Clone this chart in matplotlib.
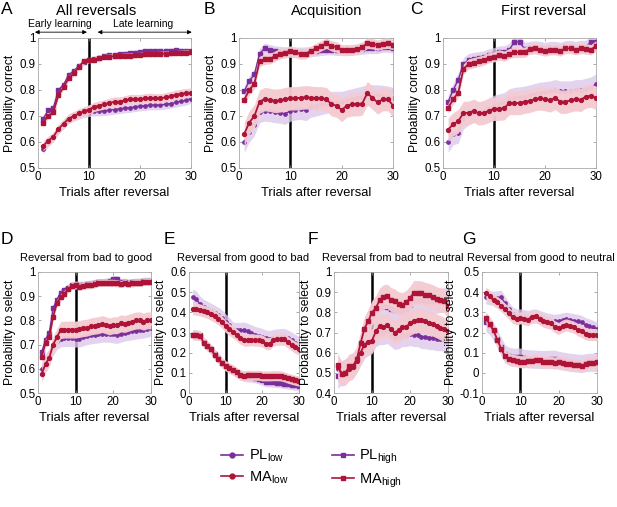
import numpy as np
import matplotlib
matplotlib.use('Agg')
import matplotlib.pyplot as plt
from matplotlib.ticker import FuncFormatter
from matplotlib.lines import Line2D

plt.rcParams['font.family'] = ['Liberation Sans', 'DejaVu Sans']
plt.rcParams['mathtext.fontset'] = 'custom'
plt.rcParams['mathtext.rm'] = 'Liberation Sans'
plt.rcParams['mathtext.it'] = 'Liberation Sans:italic'
plt.rcParams['axes.unicode_minus'] = False

trials = np.arange(1, 31)

# ---- data: mean curves (x = trials 1..30) ----
a_pl_low = [0.572,0.600,0.618,0.648,0.668,0.688,0.698,0.706,0.712,0.716,0.718,0.719,0.720,0.722,0.725,0.728,0.730,0.732,0.735,0.738,0.740,0.742,0.742,0.742,0.745,0.748,0.752,0.756,0.760,0.767]
a_pl_high = [0.690,0.722,0.732,0.800,0.820,0.858,0.872,0.893,0.908,0.915,0.918,0.925,0.930,0.933,0.935,0.937,0.940,0.942,0.944,0.946,0.949,0.950,0.950,0.950,0.951,0.951,0.952,0.951,0.950,0.950]
a_ma_low = [0.585,0.605,0.620,0.650,0.670,0.690,0.700,0.710,0.718,0.725,0.735,0.740,0.745,0.750,0.755,0.755,0.760,0.765,0.765,0.765,0.768,0.770,0.768,0.768,0.772,0.776,0.782,0.785,0.788,0.790]
a_ma_high = [0.675,0.700,0.715,0.780,0.810,0.845,0.865,0.890,0.910,0.915,0.915,0.925,0.927,0.928,0.930,0.930,0.932,0.932,0.934,0.935,0.937,0.938,0.938,0.939,0.940,0.941,0.942,0.943,0.944,0.945]

b_pl_low = [0.600,0.640,0.665,0.715,0.720,0.718,0.714,0.712,0.708,0.720,0.725,0.727,0.722,0.735,0.740,0.745,0.750,0.755,0.755,0.755,0.760,0.765,0.770,0.775,0.780,0.780,0.780,0.778,0.775,0.770]
b_pl_high = [0.795,0.835,0.860,0.940,0.960,0.955,0.950,0.948,0.946,0.945,0.945,0.945,0.946,0.948,0.950,0.953,0.955,0.955,0.953,0.952,0.952,0.953,0.955,0.957,0.960,0.960,0.960,0.965,0.965,0.962]
b_ma_low = [0.630,0.675,0.700,0.755,0.765,0.762,0.758,0.760,0.765,0.768,0.768,0.770,0.772,0.770,0.768,0.768,0.765,0.745,0.740,0.723,0.740,0.745,0.745,0.748,0.788,0.770,0.752,0.765,0.765,0.740]
b_ma_high = [0.762,0.800,0.825,0.910,0.918,0.920,0.930,0.940,0.943,0.950,0.945,0.938,0.940,0.950,0.960,0.970,0.980,0.970,0.965,0.955,0.955,0.955,0.958,0.965,0.980,0.978,0.972,0.978,0.980,0.975]

c_pl_low = [0.600,0.630,0.635,0.690,0.705,0.715,0.715,0.720,0.730,0.740,0.745,0.750,0.765,0.770,0.772,0.775,0.780,0.785,0.790,0.792,0.795,0.800,0.795,0.795,0.795,0.800,0.800,0.805,0.810,0.822]
c_pl_high = [0.755,0.800,0.840,0.900,0.915,0.920,0.922,0.926,0.934,0.938,0.945,0.945,0.955,0.985,0.985,0.958,0.962,0.964,0.962,0.958,0.962,0.962,0.958,0.965,0.966,0.962,0.966,0.966,0.985,0.985]
c_ma_low = [0.648,0.668,0.680,0.712,0.712,0.720,0.710,0.712,0.720,0.728,0.728,0.730,0.750,0.750,0.750,0.755,0.758,0.765,0.768,0.765,0.760,0.770,0.755,0.755,0.760,0.765,0.762,0.775,0.778,0.770]
c_ma_high = [0.730,0.765,0.790,0.880,0.900,0.905,0.910,0.915,0.925,0.928,0.935,0.930,0.940,0.945,0.945,0.945,0.958,0.960,0.955,0.950,0.955,0.955,0.950,0.960,0.960,0.955,0.960,0.958,0.955,0.970]

d_pl_low = [0.600,0.625,0.650,0.690,0.715,0.725,0.727,0.727,0.727,0.725,0.725,0.730,0.735,0.738,0.740,0.742,0.745,0.745,0.745,0.742,0.740,0.745,0.750,0.752,0.755,0.758,0.760,0.762,0.765,0.770]
d_pl_high = [0.670,0.720,0.750,0.850,0.885,0.915,0.925,0.935,0.945,0.948,0.946,0.948,0.950,0.952,0.955,0.958,0.958,0.960,0.962,0.970,0.970,0.958,0.960,0.956,0.958,0.960,0.960,0.962,0.964,0.964]
d_ma_low = [0.580,0.620,0.645,0.700,0.730,0.760,0.762,0.762,0.762,0.762,0.765,0.768,0.770,0.775,0.778,0.780,0.785,0.780,0.775,0.780,0.780,0.788,0.785,0.790,0.795,0.800,0.800,0.795,0.800,0.800]
d_ma_high = [0.650,0.708,0.730,0.815,0.870,0.895,0.910,0.930,0.943,0.945,0.940,0.943,0.945,0.945,0.950,0.955,0.955,0.955,0.955,0.955,0.953,0.950,0.955,0.950,0.953,0.955,0.955,0.958,0.960,0.960]

e_pl_low = [0.475,0.465,0.440,0.425,0.415,0.405,0.395,0.385,0.372,0.352,0.335,0.312,0.310,0.310,0.312,0.305,0.298,0.290,0.285,0.280,0.272,0.270,0.275,0.278,0.280,0.280,0.272,0.262,0.250,0.240]
e_pl_high = [0.290,0.288,0.286,0.252,0.235,0.218,0.192,0.172,0.150,0.135,0.122,0.112,0.100,0.088,0.082,0.080,0.078,0.075,0.070,0.062,0.056,0.055,0.053,0.052,0.050,0.047,0.044,0.041,0.038,0.035]
e_ma_low = [0.418,0.416,0.412,0.406,0.400,0.390,0.380,0.367,0.352,0.330,0.315,0.302,0.288,0.272,0.262,0.262,0.265,0.262,0.262,0.258,0.245,0.245,0.262,0.268,0.268,0.266,0.252,0.238,0.226,0.219]
e_ma_high = [0.288,0.286,0.285,0.250,0.233,0.216,0.190,0.170,0.150,0.135,0.123,0.116,0.102,0.090,0.086,0.088,0.088,0.088,0.088,0.085,0.085,0.085,0.086,0.086,0.085,0.080,0.073,0.068,0.063,0.059]

f_pl_low = [0.520,0.500,0.505,0.525,0.535,0.560,0.595,0.630,0.645,0.655,0.690,0.700,0.700,0.705,0.690,0.675,0.680,0.690,0.690,0.695,0.690,0.690,0.680,0.680,0.675,0.675,0.670,0.670,0.668,0.665]
f_pl_high = [0.482,0.500,0.510,0.530,0.540,0.570,0.630,0.700,0.740,0.780,0.815,0.828,0.830,0.825,0.815,0.810,0.805,0.805,0.815,0.835,0.860,0.862,0.860,0.855,0.855,0.855,0.855,0.858,0.862,0.870]
f_ma_low = [0.530,0.495,0.500,0.520,0.530,0.560,0.600,0.640,0.655,0.660,0.705,0.730,0.726,0.735,0.715,0.700,0.712,0.725,0.729,0.745,0.755,0.763,0.760,0.756,0.748,0.742,0.733,0.723,0.715,0.705]
f_ma_high = [0.537,0.496,0.499,0.534,0.534,0.568,0.647,0.719,0.756,0.799,0.822,0.860,0.877,0.879,0.863,0.856,0.842,0.838,0.849,0.870,0.898,0.897,0.896,0.888,0.884,0.877,0.866,0.862,0.858,0.833]

g_pl_low = [0.377,0.372,0.370,0.372,0.375,0.345,0.315,0.292,0.282,0.282,0.278,0.275,0.280,0.282,0.275,0.268,0.262,0.258,0.255,0.258,0.262,0.266,0.262,0.258,0.255,0.250,0.238,0.232,0.225,0.216]
g_pl_high = [0.250,0.235,0.205,0.170,0.130,0.095,0.082,0.078,0.078,0.078,0.072,0.070,0.068,0.068,0.066,0.066,0.066,0.068,0.068,0.062,0.058,0.055,0.052,0.050,0.048,0.046,0.050,0.052,0.052,0.052]
g_ma_low = [0.397,0.379,0.360,0.349,0.333,0.315,0.295,0.275,0.267,0.273,0.267,0.264,0.278,0.282,0.268,0.256,0.250,0.245,0.228,0.220,0.232,0.238,0.232,0.226,0.213,0.205,0.193,0.190,0.190,0.189]
g_ma_high = [0.274,0.240,0.210,0.164,0.119,0.082,0.068,0.062,0.059,0.055,0.055,0.058,0.059,0.066,0.062,0.055,0.055,0.052,0.048,0.055,0.048,0.045,0.042,0.041,0.038,0.034,0.045,0.051,0.051,0.052]

# SEM half-widths of the shaded bands: (pl_low, pl_high, ma_low, ma_high)
sem_a = [0.018, 0.010, 0.018, 0.010]
sem_b = [0.040, 0.020, 0.045, 0.020]
sem_c = [0.040, 0.025, 0.045, 0.020]
sem_d = [0.035, 0.015, 0.035, 0.015]
sem_e = [0.040, 0.025, 0.030, 0.025]
sem_f = [0.060, 0.060, 0.060, 0.060]
sem_g = [0.035, 0.045, 0.030, 0.030]

titles = ['All reversals', 'Acquisition', 'First reversal',
          'Reversal from bad to good', 'Reversal from good to bad',
          'Reversal from bad to neutral', 'Reversal from good to neutral']
letters = ['A', 'B', 'C', 'D', 'E', 'F', 'G']
ylabels = ['Probability correct'] * 3 + ['Probability to select'] * 4
ylims = [(0.5, 1), (0.5, 1), (0.5, 1), (0.5, 1), (0, 0.6), (0.4, 1), (-0.1, 0.5)]

panels = [
    (a_pl_low, a_pl_high, a_ma_low, a_ma_high, sem_a),
    (b_pl_low, b_pl_high, b_ma_low, b_ma_high, sem_b),
    (c_pl_low, c_pl_high, c_ma_low, c_ma_high, sem_c),
    (d_pl_low, d_pl_high, d_ma_low, d_ma_high, sem_d),
    (e_pl_low, e_pl_high, e_ma_low, e_ma_high, sem_e),
    (f_pl_low, f_pl_high, f_ma_low, f_ma_high, sem_f),
    (g_pl_low, g_pl_high, g_ma_low, g_ma_high, sem_g),
]

PL = '#7B2E9A'
MA = '#AE1438'
PL_FILL = '#DCC8EA'
MA_FILL = '#F4CBD2'

W, H = 617, 507
fig = plt.figure(figsize=(W / 100, H / 100), dpi=100)

# axes boxes in pixels: left, top, right, bottom
boxes = [(38, 38, 191, 168), (239, 38, 393, 168), (443, 38, 596, 168),
         (38, 272, 151, 393), (189, 272, 299, 393), (334, 272, 448, 393),
         (482, 272, 597, 393)]
letter_pos = [(1, 10), (204, 10), (410, 10), (1, 240), (164, 240), (308, 240), (462, 240)]
title_pos = [(56, 11), (291, 11), (501, 11), (20, 258), (177, 258), (322, 258), (467, 258)]

fmt = FuncFormatter(lambda v, p: ('%g' % round(v, 2)))

for i, (pl_lo, pl_hi, ma_lo, ma_hi, sem) in enumerate(panels):
    l, t, r, b = boxes[i]
    ax = fig.add_axes([l / W, 1 - b / H, (r - l) / W, (b - t) / H])
    ax.axvline(10, color='k', lw=1.8, zorder=1)
    # purple (PL) underneath, red (MA) band nearly opaque on top
    for y, s in [(pl_lo, sem[0]), (pl_hi, sem[1])]:
        y = np.array(y)
        ax.fill_between(trials, y - s, y + s, color=PL_FILL, alpha=0.8, lw=0, zorder=2)
    ax.plot(trials, pl_lo, color=PL, lw=1.0, marker='o', ms=2.4, zorder=3)
    ax.plot(trials, pl_hi, color=PL, lw=1.0, marker='s', ms=2.4, zorder=3)
    for y, s in [(ma_lo, sem[2]), (ma_hi, sem[3])]:
        y = np.array(y)
        ax.fill_between(trials, y - s, y + s, color=MA_FILL, alpha=0.96, lw=0, zorder=4)
    ax.plot(trials, ma_lo, color=MA, lw=1.3, marker='o', ms=2.8, zorder=5)
    ax.plot(trials, ma_hi, color=MA, lw=1.3, marker='s', ms=2.8, zorder=5)

    ax.set_xlim(0, 30)
    ax.set_ylim(*ylims[i])
    ax.set_xticks([0, 10, 20, 30])
    lo, hi = ylims[i]
    ax.set_yticks(np.round(np.arange(lo, hi + 0.001, 0.1), 2))
    ax.yaxis.set_major_formatter(fmt)
    ax.tick_params(direction='in', top=True, right=True, length=2.5, width=0.5,
                   color='#888888', labelsize=8.3, pad=2)
    for sp in ax.spines.values():
        sp.set_color('#aaaaaa')
        sp.set_linewidth(0.6)
    ax.set_xlabel('Trials after reversal', fontsize=9.3, labelpad=3)
    ax.set_ylabel(ylabels[i], fontsize=8.7, labelpad=2)

    fig.text(letter_pos[i][0] / W, 1 - letter_pos[i][1] / H, letters[i],
             fontsize=12.5, ha='left', va='center')
    fig.text(title_pos[i][0] / W, 1 - title_pos[i][1] / H, titles[i],
             fontsize=10.5 if i < 3 else 8, ha='left', va='center')

    if i == 0:
        ax.annotate('', xy=(-0.02, 1.045), xytext=(0.32, 1.045), xycoords='axes fraction',
                    arrowprops=dict(arrowstyle='<|-|>', color='k', lw=0.6,
                                    mutation_scale=6, shrinkA=0, shrinkB=0))
        ax.annotate('', xy=(0.39, 1.045), xytext=(1.005, 1.045), xycoords='axes fraction',
                    arrowprops=dict(arrowstyle='<|-|>', color='k', lw=0.6,
                                    mutation_scale=6, shrinkA=0, shrinkB=0))
        ax.text(0.145, 1.105, 'Early learning', transform=ax.transAxes,
                fontsize=7.5, ha='center', va='center')
        ax.text(0.69, 1.105, 'Late learning', transform=ax.transAxes,
                fontsize=7.5, ha='center', va='center')

handles = [Line2D([], [], color=PL, lw=1.2, marker='o', ms=3.5),
           Line2D([], [], color=MA, lw=1.2, marker='o', ms=3.5),
           Line2D([], [], color=PL, lw=1.2, marker='s', ms=3.5),
           Line2D([], [], color=MA, lw=1.2, marker='s', ms=3.5)]
labels = [r'PL$_{\mathrm{low}}$', r'MA$_{\mathrm{low}}$',
          r'PL$_{\mathrm{high}}$', r'MA$_{\mathrm{high}}$']
fig.legend(handles, labels, ncol=2, loc='center', bbox_to_anchor=(0.505, 1 - 469 / H),
           frameon=False, fontsize=10.5, handlelength=1.5, handletextpad=0.4,
           columnspacing=3.0, labelspacing=0.35)

fig.savefig('out.png', dpi=100)
